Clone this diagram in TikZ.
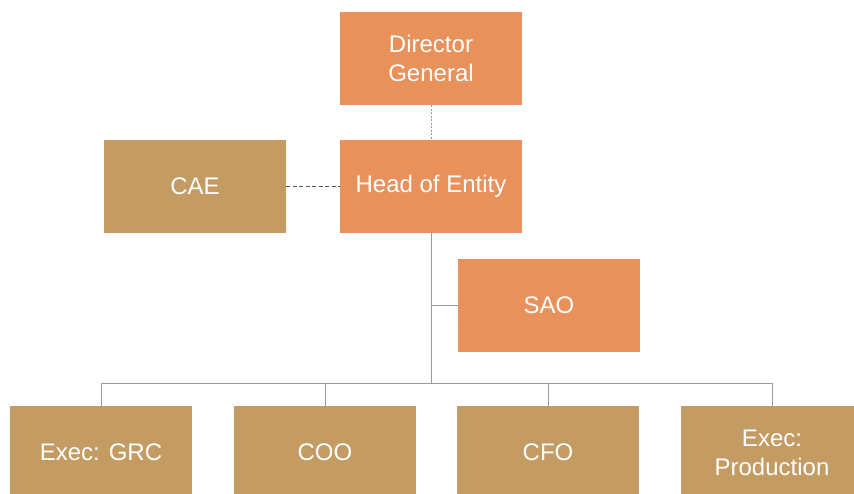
\documentclass[tikz,border=0pt]{standalone}
\usepackage{fontspec}
\setmainfont{Liberation Sans}
\usepackage{tikz}
\usetikzlibrary{positioning, calc}
\definecolor{corange}{HTML}{E8915B}
\definecolor{ctan}{HTML}{C49B63}
\definecolor{clink}{HTML}{9A9A9A}
\definecolor{cdash}{HTML}{555555}

\begin{document}
\begin{tikzpicture}[
  x=1pt, y=-1pt,
  box/.style={minimum width=182pt, minimum height=93pt, inner sep=0pt, outer sep=0pt, align=center, text=white, font=\fontsize{24}{29}\selectfont},
  obox/.style={box, fill=corange},
  tbox/.style={box, fill=ctan},
  link/.style={draw=clink, line width=1pt}
]
  \useasboundingbox (0,0) rectangle (854,493);
  \clip (0,0) rectangle (854,493);

  % Top of the chart
  \node[obox] (dg) at (431, 58.5) {Director\\General};
  \node[obox] (head) at (431, 186) {Head of Entity};
  \node[tbox] (cae) at (195, 186) {CAE};
  \node[obox] (sao) at (549, 305) {SAO};

  % Executives
  \node[tbox] (grc) at (101, 452.5) {Exec: GRC};
  \node[tbox] (coo) at (325, 452.5) {COO};
  \node[tbox] (cfo) at (548, 452.5) {CFO};
  \node[tbox] (prod) at (772, 452.5) {Exec:\\Production};

  % Dotted reporting lines
  \draw[clink, line width=0.8pt, dash pattern=on 2pt off 1.5pt] (dg) -- (head);
  \draw[cdash, line width=1pt, dash pattern=on 4pt off 2.5pt] (cae) -- (head);

  % Solid lines down to the executives
  \coordinate (bus) at (431, 383);
  \draw[link] (head.south) -- (bus);
  \draw[link] (sao.west) -- (sao.west -| head.south);
  \draw[link] (grc.north |- bus) -- (prod.north |- bus);
  \foreach \n in {grc, coo, cfo, prod}
    \draw[link] (\n.north) -- (\n.north |- bus);

\end{tikzpicture}
\end{document}
